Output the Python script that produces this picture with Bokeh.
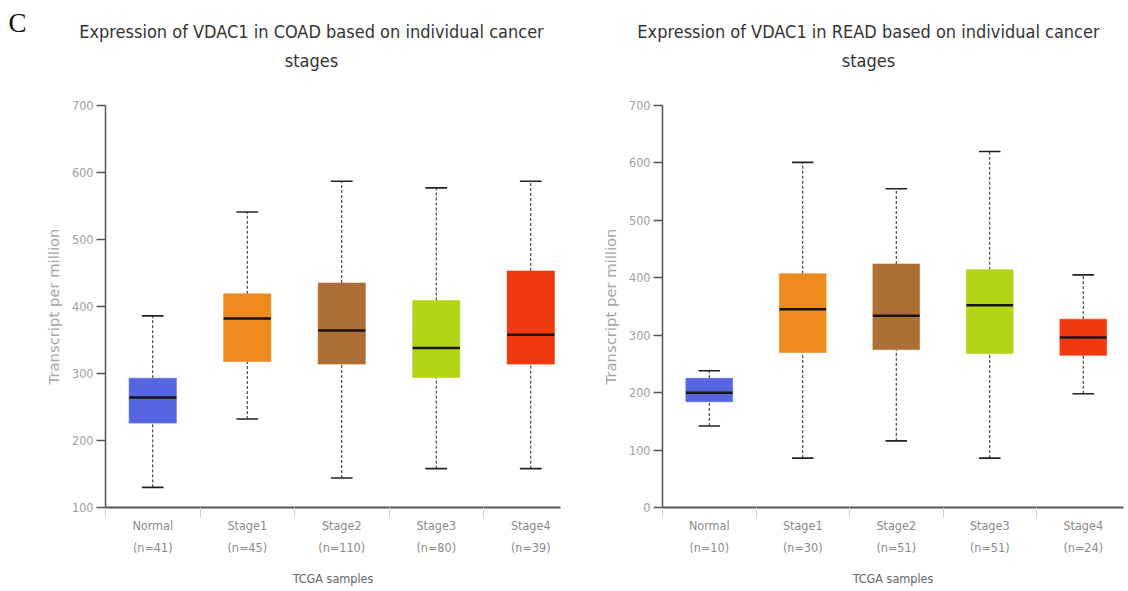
from bokeh.plotting import figure
from bokeh.layouts import row, column
from bokeh.models import ColumnDataSource, FixedTicker, Range1d, Label
from bokeh.transform import dodge
from bokeh.embed import file_html
from bokeh.resources import INLINE

# ---------------- data ----------------
categories = ["Normal", "Stage1", "Stage2", "Stage3", "Stage4"]
colors = ["#5566E0", "#EE8A1E", "#AD6F35", "#B2D516", "#F0390F"]

coad_n = [41, 45, 110, 80, 39]
coad_upper = [386, 541, 587, 577, 587]
coad_q3 = [293, 419, 435, 409, 453]
coad_median = [264, 382, 364, 338, 358]
coad_q1 = [226, 318, 314, 294, 314]
coad_lower = [130, 232, 144, 158, 158]

read_n = [10, 30, 51, 51, 24]
read_upper = [238, 601, 555, 620, 405]
read_q3 = [225, 407, 424, 414, 328]
read_median = [200, 345, 334, 352, 296]
read_q1 = [184, 270, 275, 268, 265]
read_lower = [142, 86, 116, 86, 198]

coad_ticks = [100, 200, 300, 400, 500, 600, 700]
read_ticks = [0, 100, 200, 300, 400, 500, 600, 700]

titles = [
    ("Expression of VDAC1 in COAD based on individual cancer", "stages"),
    ("Expression of VDAC1 in READ based on individual cancer", "stages"),
]
panel_letter = "C"

NARROW = "DejaVu Sans Condensed"


def panel(ns, upper, q3, med, q1, lower, yticks, width, border_left,
          border_right, x_end):
    xs = [i + 0.5 for i in range(len(categories))]
    src = ColumnDataSource(dict(x=xs, upper=upper, q3=q3, med=med, q1=q1,
                                lower=lower, color=colors))
    p = figure(width=width, height=492, output_backend="svg",
               toolbar_location=None,
               x_range=Range1d(0, x_end),
               y_range=Range1d(yticks[0], yticks[-1]),
               min_border_left=border_left, min_border_right=border_right,
               min_border_top=8, min_border_bottom=82)
    p.outline_line_color = None
    p.grid.visible = False

    # whiskers (dashed)
    p.segment(x0="x", y0="q3", x1="x", y1="upper", source=src,
              line_color="#222222", line_width=1, line_dash="3 2")
    p.segment(x0="x", y0="lower", x1="x", y1="q1", source=src,
              line_color="#222222", line_width=1, line_dash="3 2")
    # caps
    p.segment(x0=dodge("x", -0.115), y0="upper", x1=dodge("x", 0.115),
              y1="upper", source=src, line_color="#222222", line_width=1.6)
    p.segment(x0=dodge("x", -0.115), y0="lower", x1=dodge("x", 0.115),
              y1="lower", source=src, line_color="#222222", line_width=1.6)
    # boxes
    p.vbar(x="x", width=0.5, top="q3", bottom="q1", source=src,
           fill_color="color", line_color="color", line_alpha=0.6)
    # medians
    p.segment(x0=dodge("x", -0.25), y0="med", x1=dodge("x", 0.25), y1="med",
              source=src, line_color="#151515", line_width=2.5)

    # x axis
    xa = p.xaxis[0]
    xa.ticker = FixedTicker(ticks=xs, minor_ticks=[float(i) for i in range(len(categories))])
    xa.major_label_overrides = {x: f"{c}\n(n={n})" for x, c, n in zip(xs, categories, ns)}
    xa.major_tick_line_color = None
    xa.major_tick_out = 0
    xa.major_tick_in = 0
    xa.minor_tick_out = 10
    xa.minor_tick_in = 0
    xa.minor_tick_line_color = "#d0d0d0"
    xa.minor_tick_line_width = 1
    xa.axis_line_color = "#555555"
    xa.axis_line_width = 2
    xa.major_label_standoff = 0
    xa.major_label_text_font = NARROW
    xa.major_label_text_font_size = "12.5px"
    xa.major_label_text_color = "#8a8a8a"
    xa.major_label_text_line_height = 1.5
    xa.axis_label = "TCGA samples"
    xa.axis_label_text_font = NARROW
    xa.axis_label_text_font_style = "normal"
    xa.axis_label_text_font_size = "12.5px"
    xa.axis_label_text_color = "#666666"
    xa.axis_label_text_line_height = 1.0
    xa.axis_label_standoff = 13

    # y axis
    ya = p.yaxis[0]
    ya.ticker = FixedTicker(ticks=yticks, minor_ticks=[])
    ya.major_tick_out = 9
    ya.major_tick_in = 0
    ya.major_tick_line_color = "#555555"
    ya.major_tick_line_width = 1.5
    ya.axis_line_color = "#555555"
    ya.axis_line_width = 1.5
    ya.major_label_standoff = 3
    ya.major_label_text_font = NARROW
    ya.major_label_text_font_size = "12.5px"
    ya.major_label_text_color = "#a0a0a0"
    ya.axis_label = "Transcript per million"
    ya.axis_label_text_font = "DejaVu Sans"
    ya.axis_label_text_font_style = "normal"
    ya.axis_label_text_font_size = "14.8px"
    ya.axis_label_text_color = "#a5a5a5"
    ya.axis_label_standoff = 7
    return p


p1 = panel(coad_n, coad_upper, coad_q3, coad_median, coad_q1, coad_lower,
           coad_ticks, width=590, border_left=105, border_right=30,
           x_end=455 / 94.5)
p2 = panel(read_n, read_upper, read_q3, read_median, read_q1, read_lower,
           read_ticks, width=536, border_left=72, border_right=3,
           x_end=461 / 93.5)

# header strip holding the panel letter and both two-line titles
head = figure(width=1126, height=97, output_backend="svg", toolbar_location=None,
              x_range=Range1d(0, 1126), y_range=Range1d(97, 0),
              x_axis_location=None, y_axis_location=None,
              min_border=0, min_border_left=0, min_border_right=0,
              min_border_top=0, min_border_bottom=0)
head.outline_line_color = None
head.grid.visible = False
for cx, (l1, l2) in zip([311, 868], titles):
    head.add_layout(Label(x=cx, y=31, text=l1, text_align="center",
                          text_baseline="middle", text_font=NARROW,
                          text_font_size="18px", text_color="#333333"))
    head.add_layout(Label(x=cx, y=60, text=l2, text_align="center",
                          text_baseline="middle", text_font=NARROW,
                          text_font_size="18px", text_color="#333333"))
head.add_layout(Label(x=17, y=22, text=panel_letter, text_align="center",
                      text_baseline="middle", text_font="Liberation Serif",
                      text_font_size="27px", text_color="#111111"))

layout = column(head, row(p1, p2))
open("out.html", "w").write(file_html(layout, INLINE))
